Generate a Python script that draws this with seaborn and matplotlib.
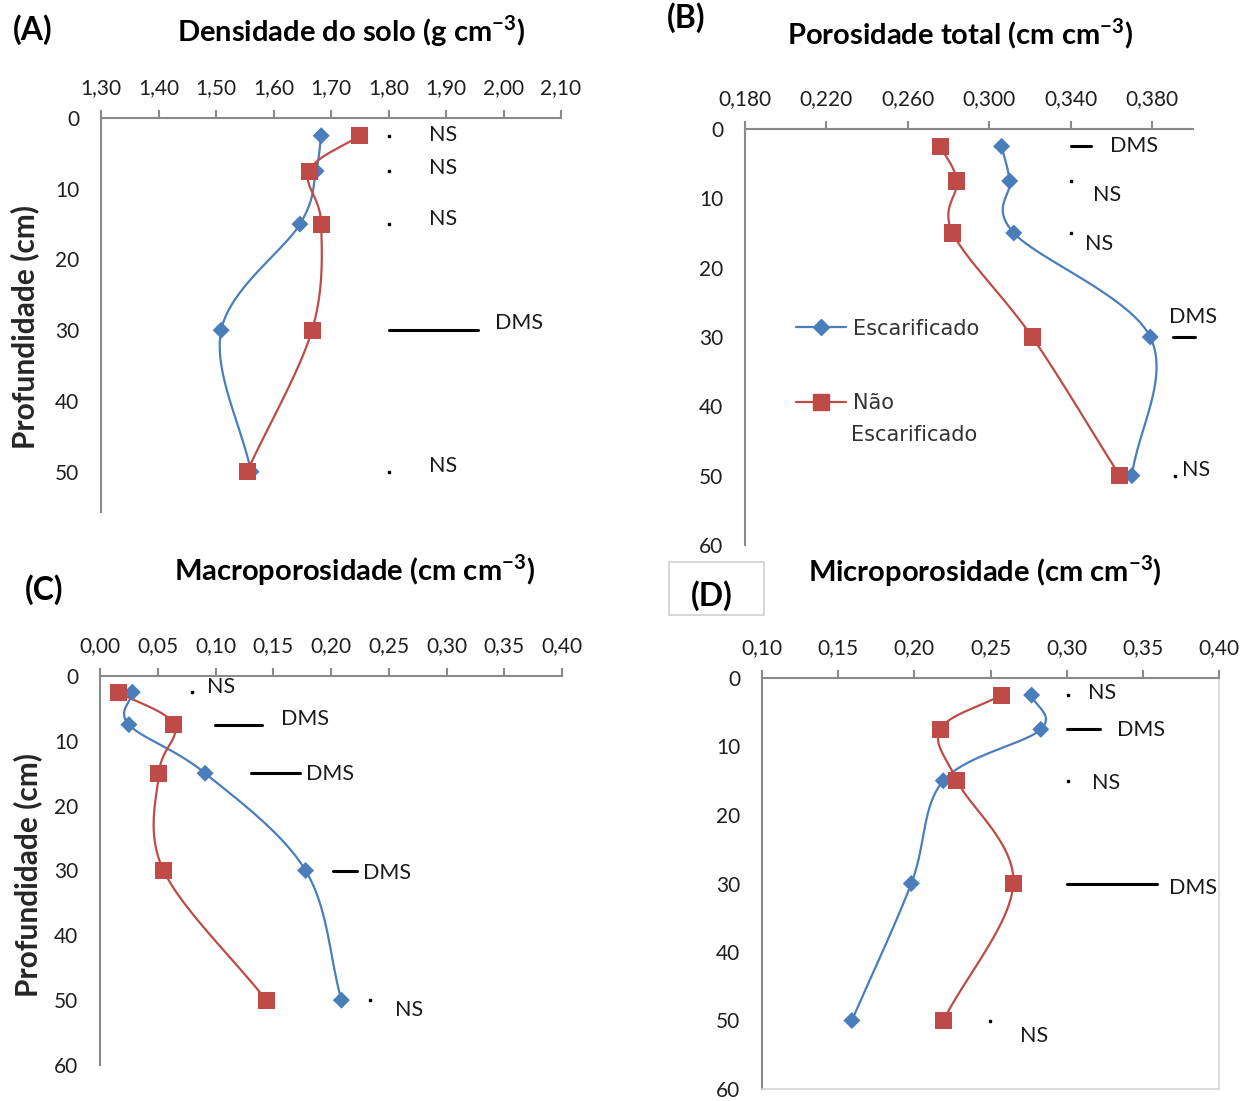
import numpy as np
import seaborn as sns
import matplotlib.pyplot as plt
from matplotlib.lines import Line2D
from matplotlib.patches import Rectangle

# profundidade das camadas (cm)
depth = [2.5, 7.5, 15, 30, 50]

# (A) densidade do solo (g cm-3)
dens_esc = [1.683, 1.674, 1.646, 1.509, 1.561]
dens_nao = [1.749, 1.662, 1.683, 1.667, 1.554]
# (B) porosidade total (cm cm-3)
pt_esc = [0.306, 0.310, 0.312, 0.379, 0.370]
pt_nao = [0.276, 0.284, 0.282, 0.321, 0.364]
# (C) macroporosidade (cm cm-3)
macro_esc = [0.028, 0.025, 0.091, 0.178, 0.209]
macro_nao = [0.016, 0.064, 0.051, 0.055, 0.144]
# (D) microporosidade (cm cm-3)
micro_esc = [0.277, 0.283, 0.219, 0.198, 0.159]
micro_nao = [0.257, 0.217, 0.228, 0.265, 0.219]

# significancia por camada e tamanho da DMS
sig_A = ["NS", "NS", "NS", "DMS", "NS"]
dms_A = [0, 0, 0, 0.155, 0]
sig_B = ["DMS", "NS", "NS", "DMS", "NS"]
dms_B = [0.010, 0, 0, 0.011, 0]
sig_C = ["NS", "DMS", "DMS", "DMS", "NS"]
dms_C = [0, 0.041, 0.042, 0.021, 0]
sig_D = ["NS", "DMS", "NS", "DMS", "NS"]
dms_D = [0, 0.022, 0, 0.059, 0]

# eixos
dens_ticks = [1.30, 1.40, 1.50, 1.60, 1.70, 1.80, 1.90, 2.00, 2.10]
pt_ticks = [0.180, 0.220, 0.260, 0.300, 0.340, 0.380]
macro_ticks = [0.00, 0.05, 0.10, 0.15, 0.20, 0.25, 0.30, 0.35, 0.40]
micro_ticks = [0.10, 0.15, 0.20, 0.25, 0.30, 0.35, 0.40]
depth_ticks_A = [0, 10, 20, 30, 40, 50]
depth_ticks = [0, 10, 20, 30, 40, 50, 60]

BLUE = "#4a7ebb"
RED = "#be4b48"
AXIS = "#8a8a8a"
W, H = 1253, 1101

sns.set_style("white")
plt.rcParams["font.family"] = ["Lato", "DejaVu Sans"]
plt.rcParams["mathtext.fontset"] = "custom"
plt.rcParams["mathtext.rm"] = "Lato"
plt.rcParams["mathtext.bf"] = "Lato:bold"


def fx(x):
    return x / W


def fy(y):
    return 1 - y / H


def rect(l, t, r, b):
    return [l / W, 1 - b / H, (r - l) / W, (b - t) / H]


def smooth_curve(ax, xs, ys, n=25):
    # curva suavizada tipo Excel (Catmull-Rom em coordenadas de tela)
    pts = ax.transData.transform(np.column_stack([xs, ys]))
    ext = np.vstack([2 * pts[0] - pts[1], pts, 2 * pts[-1] - pts[-2]])
    t = np.linspace(0, 1, n)[:, None]
    segs = []
    for i in range(1, len(ext) - 2):
        p0, p1, p2, p3 = ext[i - 1], ext[i], ext[i + 1], ext[i + 2]
        segs.append(0.5 * (2 * p1 + (p2 - p0) * t
                           + (2 * p0 - 5 * p1 + 4 * p2 - p3) * t ** 2
                           + (3 * p1 - p0 - 3 * p2 + p3) * t ** 3))
    return ax.transData.inverted().transform(np.vstack(segs))


def draw_panel(ax, esc, nao, xlim, ylim, xticks, yticks, dec, sig, dms, mark_x, txt):
    ax.set_xlim(xlim)
    ax.set_ylim(ylim)
    for vals, color, marker, size in [(esc, BLUE, "D", 75), (nao, RED, "s", 150)]:
        curve = smooth_curve(ax, vals, depth)
        sns.lineplot(x=curve[:, 0], y=curve[:, 1], sort=False, estimator=None,
                     color=color, lw=1.6, ax=ax, zorder=2)
        sns.scatterplot(x=vals, y=depth, marker=marker, s=size, color=color,
                        edgecolor="none", ax=ax, zorder=3)
    # marcas de significancia
    for d, s, v, x0, (tx, ty) in zip(depth, sig, dms, mark_x, txt):
        if s == "DMS":
            ax.plot([x0, x0 + v], [d, d], color="black", lw=2.2, clip_on=False)
        else:
            ax.plot([x0], [d], marker="s", ms=2, color="black", clip_on=False)
        ax.text(tx, ty, s, fontsize=15.5, color="#1a1a1a", ha="center", va="center")

    ax.xaxis.tick_top()
    ax.set_xticks(xticks)
    ax.set_xticklabels([f"{v:.{dec}f}".replace(".", ",") for v in xticks])
    ax.set_yticks(yticks)
    ax.set_yticklabels([str(v) for v in yticks])
    ax.tick_params(axis="both", direction="out", length=6, width=1.5, color=AXIS,
                   labelsize=15, labelcolor="#1f1f1f")
    ax.tick_params(axis="x", pad=8)
    ax.tick_params(axis="y", pad=9.5)
    ax.set_xlabel("")
    ax.set_ylabel("")
    for side in ["top", "left"]:
        ax.spines[side].set_color(AXIS)
        ax.spines[side].set_linewidth(1.5)
    for side in ["right", "bottom"]:
        ax.spines[side].set_visible(False)


fig = plt.figure(figsize=(W / 100, H / 100), dpi=100)

axA = fig.add_axes(rect(101, 118, 561, 512))
draw_panel(axA, dens_esc, dens_nao, (1.30, 2.10), (55.7, 0), dens_ticks, depth_ticks_A, 2,
           sig_A, dms_A, [1.80] * 5,
           [(1.895, 2.4), (1.895, 7.1), (1.895, 14.3), (2.027, 29.0), (1.895, 49.2)])

axB = fig.add_axes(rect(745, 129, 1193, 545))
draw_panel(axB, pt_esc, pt_nao, (0.18, 0.40), (60, 0), pt_ticks, depth_ticks, 3,
           sig_B, dms_B, [0.340, 0.340, 0.340, 0.390, 0.391],
           [(0.371, 2.45), (0.358, 9.5), (0.354, 16.6), (0.400, 27.1), (0.4015, 49.2)])

axC = fig.add_axes(rect(100, 676, 562, 1065))
draw_panel(axC, macro_esc, macro_nao, (0.0, 0.40), (60, 0), macro_ticks, depth_ticks, 2,
           sig_C, dms_C, [0.08, 0.0996, 0.131, 0.2017, 0.234],
           [(0.105, 1.7), (0.1775, 6.6), (0.199, 15.1), (0.2485, 30.4), (0.268, 51.5)])

axD = fig.add_axes(rect(762, 678, 1219, 1089))
draw_panel(axD, micro_esc, micro_nao, (0.10, 0.40), (60, 0), micro_ticks, depth_ticks, 2,
           sig_D, dms_D, [0.3008, 0.300, 0.3008, 0.300, 0.2496],
           [(0.323, 2.2), (0.349, 7.6), (0.3257, 15.3), (0.383, 30.7), (0.2785, 52.3)])
for side in ["right", "bottom"]:
    axD.spines[side].set_visible(True)
    axD.spines[side].set_color("#d6d6d6")
    axD.spines[side].set_linewidth(1.2)

# legenda (painel B)
h_esc = Line2D([], [], color=BLUE, marker="D", markersize=8, lw=1.6)
h_nao = Line2D([], [], color=RED, marker="s", markersize=12, lw=1.6)
leg = axB.legend([h_esc, h_nao], ["Escarificado", "Não"], loc="upper left",
                 bbox_to_anchor=(fx(779), fy(302)), bbox_transform=fig.transFigure,
                 frameon=True, facecolor="white", edgecolor="none", framealpha=1,
                 fancybox=False, handlelength=2.4, handletextpad=0.33,
                 labelspacing=2.6, borderpad=0.3,
                 prop=dict(family="DejaVu Sans", size=15))
for t in leg.get_texts():
    t.set_color("#333333")
fig.text(fx(851), fy(435), "Escarificado", family="DejaVu Sans", fontsize=15,
         color="#333333", ha="left", va="center")

# titulos e rotulos
title_kw = dict(fontsize=21, fontweight="bold", ha="center", va="center", color="black")
fig.text(fx(351), fy(31), "Densidade do solo (g cm$^{\\mathbf{-3}}$)", **title_kw)
fig.text(fx(960), fy(34), "Porosidade total (cm cm$^{\\mathbf{-3}}$)", **title_kw)
fig.text(fx(355), fy(570), "Macroporosidade (cm cm$^{\\mathbf{-3}}$)", **title_kw)
fig.text(fx(985), fy(571), "Microporosidade (cm cm$^{\\mathbf{-3}}$)", **title_kw)

panel_kw = dict(fontsize=23, fontweight="bold", ha="center", va="center", color="black")
fig.text(fx(33), fy(30), "(A)", **panel_kw)
fig.text(fx(686), fy(18), "(B)", **panel_kw)
fig.text(fx(44), fy(590), "(C)", **panel_kw)
fig.add_artist(Rectangle((fx(669), fy(615)), (764 - 669) / W, (615 - 562) / H,
                         transform=fig.transFigure, facecolor="white",
                         edgecolor="#d0d0d0", lw=1.2))
fig.text(fx(712), fy(596), "(D)", **panel_kw)

ylab_kw = dict(fontsize=21.5, fontweight="bold", rotation=90, ha="center", va="center")
fig.text(fx(25), fy(327), "Profundidade (cm)", **ylab_kw)
fig.text(fx(28), fy(875), "Profundidade (cm)", **ylab_kw)

fig.savefig("out.png", dpi=100, facecolor="white")
